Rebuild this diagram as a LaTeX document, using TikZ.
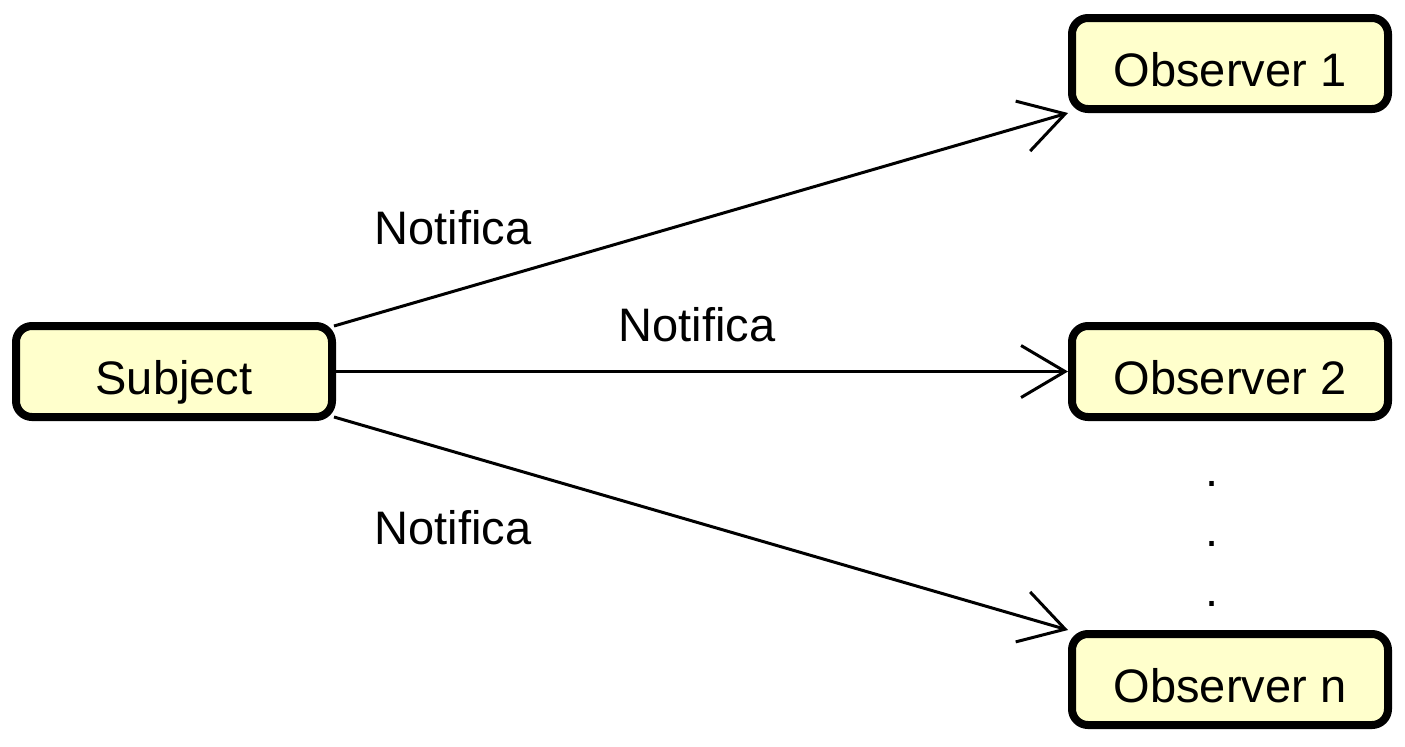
\documentclass[tikz,border=0pt]{standalone}
\usepackage{fontspec}
\setmainfont{Liberation Sans}
\usetikzlibrary{arrows.meta}
\begin{document}
\begin{tikzpicture}[x=0.5pt,y=-0.5pt,
  box/.style={draw=black,line width=4pt,fill=boxfill,rounded corners=8pt,
    minimum width=158pt,minimum height=45.5pt,inner sep=0pt,
    text height=22.5pt,text depth=0pt,
    font=\fontsize{23.5}{27}\selectfont},
  lbl/.style={font=\fontsize{23.5}{27}\selectfont,inner sep=0pt},
  conn/.style={line width=1.5pt,-{Straight Barb[length=22pt,width=26pt,line width=1.5pt]}}]
\definecolor{boxfill}{HTML}{FFFFCC}
\useasboundingbox (0,0) rectangle (1405,746);
\node[box] (s) at (174,371.5) {Subject};
\node[box] (o1) at (1230,63.5) {Observer 1};
\node[box] (o2) at (1230,371.5) {Observer 2};
\node[box] (on) at (1230,679.5) {Observer n};
\draw[conn] ([xshift=-1pt,yshift=-2pt]s.north east) -- (o1.south west);
\draw[conn] (s.east) -- (o2.west);
\draw[conn] ([xshift=-1pt,yshift=2pt]s.south east) -- (on.north west);
\node[lbl] (l1) at (453,228) {Notifica};
\node[lbl] (l2) at (697,325) {Notifica};
\node[lbl] (l3) at (453,528) {Notifica};
\node[lbl] (d1) at (1212,484) {.};
\node[lbl] (d2) at (1212,544) {.};
\node[lbl] (d3) at (1212,604) {.};
\end{tikzpicture}
\end{document}
